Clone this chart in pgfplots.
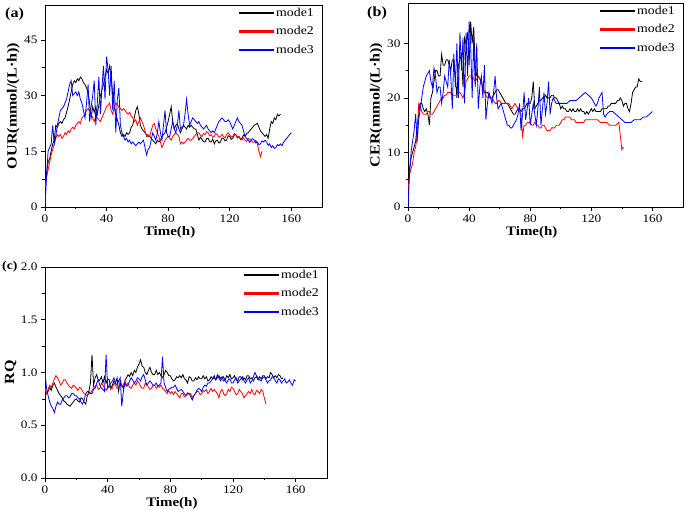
\documentclass[border=0pt]{standalone}
\usepackage{fontspec}
\setmainfont{Liberation Serif}[FakeStretch=1.15]
\usepackage{pgfplots}
\pgfplotsset{compat=1.18}
\begin{document}
\begin{tikzpicture}
\useasboundingbox (0pt,0pt) rectangle (685pt,510pt);
\fill[white] (0pt,0pt) rectangle (685pt,510pt);
\pgfplotsset{
 panel/.style={
  scale only axis, xmin=0, xmax=180, xtick={0,40,...,160}, minor x tick num=1,
  tick align=outside, xtick pos=left, ytick pos=left,
  major tick length=4pt, minor tick length=2.5pt,
  every tick/.style={black, line width=0.6pt},
  axis line style={line width=0.8pt},
  tick label style={font=\fontsize{11.5}{12}\selectfont},
  /pgf/number format/assume math mode=true,
  xlabel style={font=\fontsize{13}{14}\selectfont\bfseries, at={(ticklabel cs:0.45)}, inner sep=1pt},
  ylabel style={font=\fontsize{14}{15}\selectfont\bfseries, inner sep=1pt},
  legend style={draw=none, fill=none, at={(1,1)}, anchor=north east, xshift=-5pt, yshift=0pt,
    font=\fontsize{12}{13}\selectfont, row sep=4.5pt, inner sep=1pt,
    nodes={inner sep=2pt}},
  legend image code/.code={\fill[#1] (0pt,-0.55pt) rectangle (34pt,0.55pt);},
  legend cell align=left,
  no markers,
  every axis plot/.append style={line width=0.8pt},
 }
}
% ---------------- (a) ----------------
\begin{axis}[panel, at={(45pt,303pt)}, anchor=south west, width=277pt, height=202pt,
  ymin=0, ymax=54.4, ytick={0,15,30,45}, minor y tick num=1,
  xlabel={Time(h)}, ylabel={OUR(mmol/(L·h))}]
\addplot[color=black] table[row sep=\\]{t v\\
0 7\\ 1 9\\ 2 12\\ 3 13\\ 4 15\\ 5 17\\ 6 18\\ 7 22\\ 8 21.5\\ 9 22.5\\ 10 23\\ 11 22.5\\ 12 23.5\\ 13 24\\ 14 25.5\\ 15 27\\ 16 29\\ 17 31\\ 18 33\\ 19 34\\ 20 33.5\\ 21 34.5\\ 22 34\\ 23 35\\ 24 34.5\\ 25 33.5\\ 26 33\\ 27 32\\ 28 31\\ 29 28\\ 30 24\\ 31 27\\ 32 25.5\\ 33 27\\ 34 25\\ 35 27.5\\ 36 30\\ 37 31.5\\ 38 33\\ 39 35\\ 40 37\\ 41 36\\ 42 38\\ 43 35\\ 44 30\\ 45 27\\ 46 25\\ 47 23.5\\ 48 22\\ 49 20\\ 50 19\\ 51 19.5\\ 52 19\\ 53 20\\ 54 19.5\\ 55 20\\ 56 21.5\\ 57 22\\ 58 24\\ 59 26\\ 60 27\\ 61 25\\ 62 22\\ 63 21\\ 64 20.5\\ 65 20\\ 66 19.5\\ 67 19\\ 68 19\\ 69 18.5\\ 70 18\\ 71 17.5\\ 72 17\\ 73 18\\ 74 17.5\\ 75 18\\ 76 19\\ 77 19.5\\ 78 20\\ 79 21.5\\ 80 23\\ 81 25\\ 82 27\\ 83 23\\ 84 21\\ 85 22\\ 86 22.5\\ 87 21\\ 88 20\\ 89 21\\ 90 22\\ 91 21.5\\ 92 21\\ 93 22\\ 94 21.5\\ 95 22\\ 96 21.5\\ 97 21\\ 98 21\\ 99 19.5\\ 100 18\\ 101 18.8\\ 102 18.2\\ 103 17.6\\ 104 17.5\\ 105 18.4\\ 106 18.5\\ 107 17.6\\ 108 17.5\\ 109 18.3\\ 110 17\\ 111 17.8\\ 112 18\\ 113 17.2\\ 114 17.5\\ 115 18.6\\ 116 18.5\\ 117 17.8\\ 118 18\\ 119 19.2\\ 120 19\\ 121 18.2\\ 122 18.5\\ 123 19.4\\ 124 19.5\\ 125 18.6\\ 126 19\\ 127 18.2\\ 128 18.5\\ 129 19.4\\ 130 19\\ 131 19.8\\ 132 20\\ 134 21\\ 136 22\\ 138 22.5\\ 140 20.5\\ 142 19.5\\ 143 19\\ 144 19.5\\ 145 18.5\\ 146 21\\ 147 23\\ 148 22.5\\ 149 24\\ 150 23.5\\ 151 25\\ 152 24.5\\ 153 25\\
};
\addlegendentry{mode1}
\addplot[color=red] table[row sep=\\]{t v\\
0 5\\ 1 8\\ 2 10\\ 3 12\\ 4 14\\ 5 15.5\\ 6 17\\ 7 18.5\\ 8 19.5\\ 9 19\\ 10 19.5\\ 11 18.5\\ 12 19\\ 13 20\\ 14 19.5\\ 15 20.5\\ 16 20\\ 17 21\\ 18 21.5\\ 19 21\\ 20 22\\ 21 22.5\\ 22 23\\ 23 22.5\\ 24 24\\ 25 24.5\\ 26 25\\ 27 26\\ 28 26.5\\ 29 26\\ 30 25\\ 31 24\\ 32 23\\ 33 24.5\\ 34 24\\ 35 23.5\\ 36 23\\ 37 24\\ 38 25\\ 39 26\\ 40 27\\ 41 27.5\\ 42 28\\ 43 26\\ 44 25\\ 45 27\\ 46 28\\ 47 27.5\\ 48 27\\ 49 26.5\\ 50 26\\ 51 26.5\\ 52 26\\ 53 25.5\\ 54 25\\ 55 25.5\\ 56 24.5\\ 57 24\\ 58 23\\ 59 23.5\\ 60 22\\ 61 23\\ 62 24\\ 63 23\\ 64 22\\ 65 20.5\\ 66 19\\ 67 19.5\\ 68 19\\ 69 20.5\\ 70 22\\ 71 22.5\\ 72 21\\ 73 20\\ 74 19\\ 75 17.5\\ 76 16\\ 77 17\\ 78 18\\ 79 18.5\\ 80 19\\ 81 18.5\\ 82 18\\ 83 19\\ 84 19.5\\ 85 20\\ 86 19.5\\ 87 19\\ 88 17\\ 89 17.5\\ 90 17\\ 91 17.5\\ 92 18\\ 93 18.5\\ 94 18\\ 95 18\\ 96 18.5\\ 97 19\\ 98 19.5\\ 99 20\\ 100 20\\ 101 19.3\\ 102 19\\ 103 19.8\\ 104 19.5\\ 105 20.3\\ 106 20\\ 107 19.2\\ 108 19.5\\ 109 18.8\\ 110 19\\ 111 19.8\\ 112 19.5\\ 113 18.8\\ 114 19\\ 115 19.6\\ 116 19\\ 117 18.6\\ 118 19.5\\ 119 20\\ 120 19.5\\ 121 18.8\\ 122 19\\ 123 19.8\\ 124 19.5\\ 125 18.8\\ 126 19\\ 127 18.4\\ 128 18\\ 129 18.6\\ 130 18\\ 131 17.6\\ 132 18.5\\ 133 18.2\\ 134 18\\ 135 17.4\\ 136 17.5\\ 137 18\\ 138 17\\ 139 15\\ 140 13.5\\ 141 15\\
};
\addlegendentry{mode2}
\addplot[color=blue] table[row sep=\\]{t v\\
0 0\\ 1 8\\ 2 15\\ 3 16\\ 4 17\\ 5 22\\ 6 17\\ 7 19\\ 8 22\\ 9 24\\ 10 26\\ 11 26.5\\ 12 27\\ 13 28\\ 14 29\\ 15 31\\ 16 33\\ 17 34\\ 18 30\\ 19 30.5\\ 20 31\\ 21 30\\ 22 31\\ 23 29\\ 24 28\\ 25 26\\ 26 24\\ 27 28\\ 28 33\\ 29 23\\ 30 27\\ 31 30\\ 32 34\\ 33 22\\ 34 28\\ 35 35\\ 36 25\\ 37 32\\ 38 38\\ 39 29\\ 40 40.5\\ 41 37\\ 42 30\\ 43 38\\ 44 26\\ 45 34\\ 46 20\\ 47 29\\ 48 32\\ 49 22\\ 50 20\\ 51 19\\ 52 18\\ 53 18.5\\ 54 17.5\\ 55 18\\ 56 17\\ 57 17.5\\ 58 17\\ 59 16.5\\ 60 17\\ 61 17.5\\ 62 17\\ 63 17.5\\ 64 18\\ 65 16\\ 66 14\\ 67 15.5\\ 68 16\\ 69 18\\ 70 20\\ 71 19\\ 72 18\\ 73 20\\ 74 23\\ 75 20\\ 76 18\\ 77 22\\ 78 26\\ 79 20\\ 80 19\\ 81 19\\ 82 21\\ 83 23\\ 84 21\\ 85 20\\ 86 22\\ 87 26\\ 88 21\\ 89 21.5\\ 90 22\\ 91 25\\ 92 29\\ 93 25\\ 94 22\\ 95 23\\ 96 24\\ 97 23.5\\ 98 23\\ 99 22.5\\ 100 23\\ 101 22\\ 102 21.5\\ 103 21\\ 104 21.5\\ 105 22\\ 106 21\\ 107 20.5\\ 108 20\\ 109 20.5\\ 110 20\\ 111 21\\ 112 22\\ 113 23\\ 114 23.5\\ 115 24\\ 116 23.5\\ 117 23\\ 118 23\\ 119 23.5\\ 120 23\\ 121 22\\ 122 21\\ 123 22\\ 124 23\\ 125 24\\ 126 23\\ 127 22.5\\ 128 22\\ 129 20.5\\ 130 19\\ 131 18.5\\ 132 18\\ 133 17.4\\ 134 18\\ 135 18.4\\ 136 18\\ 137 17.2\\ 138 17.5\\ 139 16.8\\ 140 17\\ 141 17.8\\ 142 17.5\\ 143 18\\ 144 17.5\\ 145 16.6\\ 146 17\\ 147 16\\ 148 16.5\\ 149 15.8\\ 150 16\\ 151 16.8\\ 152 16.5\\ 153 17\\ 154 16.5\\ 155 17.4\\ 156 18\\ 157 18.4\\ 158 19\\ 159 19.5\\ 160 20\\
};
\addlegendentry{mode3}
\end{axis}
\node[anchor=west, font=\fontsize{14}{15}\selectfont\bfseries, inner sep=0pt] at (5pt,496pt) {(a)};
% ---------------- (b) ----------------
\begin{axis}[panel, at={(408pt,303pt)}, anchor=south west, width=275pt, height=204pt,
  ymin=0, ymax=37.4, ytick={0,10,20,30}, minor y tick num=1,
  xlabel={Time(h)}, ylabel={CER(mmol/(L·h))}]
\addplot[color=black] table[row sep=\\]{t v\\
0 5\\ 1 7\\ 2 9\\ 3 10\\ 4 11\\ 5 12\\ 6 15\\ 7 17\\ 8 19\\ 9 19\\ 10 18\\ 11 17.5\\ 12 18\\ 13 17\\ 14 15\\ 15 20\\ 16 21\\ 17 23\\ 18 25\\ 19 25\\ 20 24\\ 21 24\\ 22 28\\ 23 26\\ 24 26\\ 25 27\\ 26 27\\ 27 26\\ 28 25\\ 29 27\\ 30 27\\ 31 24\\ 32 20\\ 33 26\\ 34 27\\ 35 28\\ 36 22\\ 37 31\\ 38 30\\ 39 32\\ 40 26\\ 41 34\\ 42 30\\ 43 33\\ 44 26\\ 45 24\\ 46 24\\ 47 23.5\\ 48 23\\ 49 22\\ 50 21\\ 51 21\\ 52 21\\ 53 20.5\\ 54 20\\ 55 20\\ 56 20.5\\ 57 21\\ 58 21.5\\ 59 21.5\\ 60 21\\ 61 20.5\\ 62 20\\ 63 19.5\\ 64 19\\ 65 19\\ 66 18.5\\ 67 18\\ 68 17.5\\ 69 17\\ 70 17\\ 71 17.5\\ 72 18\\ 73 18\\ 74 17.5\\ 75 18\\ 76 18\\ 77 18.5\\ 78 19\\ 79 19\\ 80 19\\ 81 20\\ 82 23\\ 83 18\\ 84 18.5\\ 85 19\\ 86 19.5\\ 87 19.5\\ 88 20\\ 89 20\\ 90 20.5\\ 91 20\\ 92 20\\ 93 20\\ 94 20.5\\ 95 20.5\\ 96 20\\ 97 20\\ 98 19.5\\ 99 19\\ 100 18\\ 101 18.5\\ 102 18\\ 103 18\\ 104 17.5\\ 105 17.5\\ 106 18\\ 107 17.5\\ 108 18\\ 109 17.5\\ 110 17.5\\ 111 18\\ 112 17.5\\ 113 18\\ 114 17.5\\ 115 17.5\\ 116 17\\ 117 17.5\\ 118 17\\ 119 17.5\\ 120 18\\ 121 17.5\\ 122 18\\ 123 17.5\\ 124 17.5\\ 125 17.5\\ 126 17.5\\ 127 18\\ 128 18\\ 129 18\\ 130 18\\ 131 18.5\\ 132 18.5\\ 133 19\\ 134 19\\ 135 19\\ 136 19\\ 137 19.5\\ 138 19.5\\ 139 20\\ 140 19.5\\ 141 18.5\\ 142 19\\ 143 19\\ 144 18\\ 145 17.5\\ 146 19\\ 147 21\\ 148 21.5\\ 149 22\\ 150 22\\ 151 23.5\\ 152 23\\ 153 23\\
};
\addlegendentry{mode1}
\addplot[color=red] table[row sep=\\]{t v\\
0 3\\ 1 6\\ 2 7\\ 3 8\\ 4 10\\ 5 11\\ 6 13\\ 7 19\\ 8 18.5\\ 9 17.5\\ 10 17\\ 11 17\\ 12 17\\ 13 17.5\\ 14 17.5\\ 15 17\\ 16 17\\ 17 17.5\\ 18 18\\ 19 18.5\\ 20 19\\ 21 19.5\\ 22 20\\ 23 20\\ 24 20.5\\ 25 20.5\\ 26 21\\ 27 21\\ 28 21\\ 29 20.5\\ 30 20.5\\ 31 20.5\\ 32 20.5\\ 33 21\\ 34 21\\ 35 20.5\\ 36 20\\ 37 21\\ 38 23\\ 39 23.5\\ 40 24\\ 41 24\\ 42 24\\ 43 23.5\\ 44 23\\ 45 23.5\\ 46 24\\ 47 23.5\\ 48 23\\ 49 22\\ 50 21\\ 51 20.5\\ 52 20\\ 53 20\\ 54 20\\ 55 20\\ 56 19.5\\ 57 19\\ 58 19\\ 59 19.5\\ 60 19.5\\ 61 19\\ 62 19\\ 63 19\\ 64 19\\ 65 19\\ 66 19\\ 67 18.5\\ 68 18\\ 69 18.5\\ 70 19\\ 71 18.5\\ 72 18\\ 73 17.5\\ 74 17\\ 75 13\\ 76 15\\ 77 15\\ 78 15.5\\ 79 15.5\\ 80 15.5\\ 81 15\\ 82 15\\ 83 15.5\\ 84 15\\ 85 15\\ 86 14.5\\ 87 14.5\\ 88 15\\ 89 15\\ 90 14.5\\ 91 14\\ 92 14\\ 93 14\\ 94 14.5\\ 95 14.5\\ 96 14.5\\ 97 15\\ 98 15\\ 99 15\\ 100 15.5\\ 101 16\\ 102 16\\ 103 16.5\\ 104 16.5\\ 105 16.5\\ 106 16.5\\ 107 16\\ 108 16\\ 109 16\\ 110 15.5\\ 111 15.5\\ 112 15.5\\ 113 15.5\\ 114 15.5\\ 115 15.5\\ 116 16\\ 117 16\\ 118 16\\ 119 16\\ 120 16\\ 122 16\\ 124 16\\ 126 15.5\\ 128 15.5\\ 130 15.5\\ 132 15\\ 134 15\\ 136 15\\ 138 15.5\\ 139 13\\ 140 10.5\\ 141 11\\
};
\addlegendentry{mode2}
\addplot[color=blue] table[row sep=\\]{t v\\
0 0\\ 1 6\\ 2 10\\ 3 12\\ 4 14\\ 5 17\\ 6 12\\ 7 16\\ 8 18\\ 9 20\\ 10 22\\ 11 23\\ 12 24\\ 13 24.5\\ 14 25\\ 15 23\\ 16 22\\ 17 25.5\\ 18 24\\ 19 21\\ 20 22\\ 21 22\\ 22 19\\ 23 21\\ 24 24\\ 25 23\\ 26 22\\ 27 27\\ 28 24\\ 29 18\\ 30 28\\ 31 22\\ 32 30\\ 33 20\\ 34 32\\ 35 25\\ 36 31\\ 37 19\\ 38 32\\ 39 24\\ 40 34\\ 41 30\\ 42 20\\ 43 31\\ 44 22\\ 45 30\\ 46 18\\ 47 22\\ 48 24\\ 49 20\\ 50 26\\ 51 16\\ 52 19\\ 53 21\\ 54 20\\ 55 19\\ 56 21\\ 57 24\\ 58 20\\ 59 18\\ 60 18.5\\ 61 19\\ 62 18\\ 63 17\\ 64 16\\ 65 15\\ 66 15\\ 67 14.5\\ 68 14.5\\ 69 15\\ 70 15.5\\ 71 16\\ 72 17\\ 73 19\\ 74 14\\ 75 17\\ 76 21\\ 77 16\\ 78 18\\ 79 20\\ 80 15\\ 81 17\\ 82 19\\ 83 17\\ 84 15\\ 85 18\\ 86 22\\ 87 15\\ 88 18\\ 89 21\\ 90 17\\ 91 19\\ 92 23\\ 93 17\\ 94 19\\ 95 20\\ 96 19.5\\ 97 19\\ 98 19\\ 99 19\\ 100 19\\ 102 19\\ 104 19\\ 106 19.5\\ 108 19.5\\ 110 19.5\\ 112 20\\ 114 20.5\\ 116 21\\ 118 20.5\\ 120 20\\ 122 19\\ 123 18.5\\ 124 19\\ 125 20\\ 126 20.5\\ 127 21\\ 128 17\\ 129 16.5\\ 130 17\\ 132 17.5\\ 134 17.5\\ 136 17\\ 138 16.5\\ 140 16\\ 142 15.5\\ 144 15.5\\ 146 15.5\\ 148 16\\ 150 16\\ 152 16\\ 154 16.5\\ 156 16.5\\ 158 17\\ 160 17.5\\
};
\addlegendentry{mode3}
\end{axis}
\node[anchor=west, font=\fontsize{14}{15}\selectfont\bfseries, inner sep=0pt] at (367pt,497pt) {(b)};
% ---------------- (c) ----------------
\begin{axis}[panel, at={(45pt,32pt)}, anchor=south west, width=282pt, height=211pt,
  ymin=0, ymax=2, ytick={0,0.5,1,1.5,2}, minor y tick num=1,
  yticklabel style={/pgf/number format/.cd, fixed, fixed zerofill, precision=1},
  xlabel={Time(h)}, ylabel={RQ}]
\addplot[color=black] table[row sep=\\]{t v\\
0 0.85\\ 1 0.80\\ 2 0.82\\ 3 0.86\\ 4 0.83\\ 5 0.88\\ 6 0.9\\ 7 0.86\\ 8 0.83\\ 9 0.8\\ 10 0.78\\ 11 0.76\\ 12 0.73\\ 13 0.72\\ 14 0.7\\ 15 0.69\\ 16 0.68\\ 17 0.7\\ 18 0.72\\ 19 0.74\\ 20 0.75\\ 21 0.73\\ 22 0.72\\ 23 0.76\\ 24 0.75\\ 25 0.72\\ 26 0.7\\ 27 0.78\\ 28 0.82\\ 29 0.9\\ 30 1.17\\ 31 0.88\\ 32 0.95\\ 33 0.98\\ 34 0.92\\ 35 0.93\\ 36 0.96\\ 37 0.9\\ 38 0.96\\ 39 0.9\\ 40 0.94\\ 41 0.93\\ 42 0.85\\ 43 0.88\\ 44 0.92\\ 45 0.9\\ 46 0.95\\ 47 0.82\\ 48 0.92\\ 49 0.88\\ 50 0.85\\ 51 0.92\\ 52 0.95\\ 53 0.98\\ 54 0.96\\ 55 1.0\\ 56 0.97\\ 57 1.02\\ 58 1.0\\ 59 1.05\\ 60 1.08\\ 61 1.12\\ 62 1.06\\ 63 1.05\\ 64 1.0\\ 65 0.98\\ 66 1.02\\ 67 1.05\\ 68 1.0\\ 69 0.98\\ 70 0.98\\ 71 1.02\\ 72 0.98\\ 73 1.0\\ 74 0.97\\ 75 0.95\\ 76 0.98\\ 77 1.02\\ 78 1.0\\ 79 0.97\\ 80 0.97\\ 81 0.94\\ 82 0.92\\ 83 0.93\\ 84 0.96\\ 85 0.95\\ 86 0.97\\ 87 0.95\\ 88 0.98\\ 89 0.94\\ 90 0.93\\ 91 0.9\\ 92 0.96\\ 93 0.95\\ 94 0.92\\ 95 0.92\\ 96 0.95\\ 97 0.93\\ 98 0.96\\ 99 0.94\\ 100 0.94\\ 101 0.97\\ 102 0.94\\ 103 0.96\\ 104 0.92\\ 105 0.93\\ 106 0.96\\ 107 0.94\\ 108 0.97\\ 109 0.93\\ 110 0.95\\ 111 0.97\\ 112 0.94\\ 113 0.96\\ 114 0.92\\ 115 0.93\\ 116 0.97\\ 117 0.95\\ 118 0.98\\ 119 0.94\\ 120 0.95\\ 121 0.97\\ 122 0.93\\ 123 0.92\\ 124 0.96\\ 125 0.96\\ 126 0.93\\ 127 0.95\\ 128 0.93\\ 129 0.97\\ 130 0.97\\ 131 0.94\\ 132 0.95\\ 133 0.92\\ 134 0.95\\ 135 0.96\\ 136 0.93\\ 137 0.96\\ 138 0.94\\ 139 0.97\\ 140 0.97\\ 141 0.94\\ 142 0.96\\ 143 0.95\\ 144 1.0\\ 145 0.98\\ 146 0.95\\ 147 0.97\\ 148 0.95\\ 149 0.98\\ 150 0.97\\ 151 0.94\\ 152 0.95\\
};
\addlegendentry{mode1}
\addplot[color=red] table[row sep=\\]{t v\\
0 0.85\\ 1 0.80\\ 2 0.84\\ 3 0.88\\ 4 0.86\\ 5 0.90\\ 6 0.94\\ 7 0.97\\ 8 0.95\\ 9 0.92\\ 10 0.88\\ 11 0.90\\ 12 0.93\\ 13 0.93\\ 14 0.9\\ 15 0.88\\ 16 0.86\\ 17 0.85\\ 18 0.88\\ 19 0.87\\ 20 0.85\\ 21 0.83\\ 22 0.86\\ 23 0.85\\ 24 0.82\\ 25 0.8\\ 26 0.79\\ 27 0.78\\ 28 0.8\\ 29 0.8\\ 30 0.83\\ 31 0.85\\ 32 0.87\\ 33 0.88\\ 34 0.84\\ 35 0.85\\ 36 0.9\\ 37 0.88\\ 38 0.85\\ 39 0.83\\ 40 0.86\\ 41 0.87\\ 42 0.84\\ 43 0.85\\ 44 0.9\\ 45 0.88\\ 46 0.85\\ 47 0.86\\ 48 0.9\\ 49 0.87\\ 50 0.88\\ 51 0.92\\ 52 0.88\\ 53 0.9\\ 54 0.86\\ 55 0.85\\ 56 0.88\\ 57 0.9\\ 58 0.88\\ 59 0.92\\ 60 0.9\\ 61 0.87\\ 62 0.85\\ 63 0.85\\ 64 0.9\\ 65 0.88\\ 66 0.86\\ 67 0.84\\ 68 0.85\\ 69 0.88\\ 70 0.88\\ 71 0.85\\ 72 0.87\\ 73 0.86\\ 74 0.88\\ 75 0.85\\ 76 0.84\\ 77 0.82\\ 78 0.8\\ 79 0.83\\ 80 0.8\\ 81 0.82\\ 82 0.79\\ 83 0.82\\ 84 0.8\\ 85 0.78\\ 86 0.76\\ 87 0.8\\ 88 0.8\\ 89 0.77\\ 90 0.78\\ 91 0.81\\ 92 0.79\\ 93 0.8\\ 94 0.76\\ 95 0.78\\ 96 0.8\\ 97 0.82\\ 98 0.82\\ 99 0.79\\ 100 0.8\\ 101 0.83\\ 102 0.82\\ 103 0.84\\ 104 0.8\\ 105 0.82\\ 106 0.85\\ 107 0.82\\ 108 0.84\\ 109 0.82\\ 110 0.8\\ 111 0.76\\ 112 0.82\\ 113 0.84\\ 114 0.8\\ 115 0.78\\ 116 0.8\\ 117 0.84\\ 118 0.82\\ 119 0.86\\ 120 0.85\\ 121 0.82\\ 122 0.79\\ 123 0.8\\ 124 0.84\\ 125 0.82\\ 126 0.8\\ 127 0.76\\ 128 0.78\\ 129 0.8\\ 130 0.82\\ 131 0.8\\ 132 0.84\\ 133 0.8\\ 134 0.79\\ 135 0.83\\ 136 0.82\\ 137 0.8\\ 138 0.84\\ 139 0.82\\ 140 0.76\\ 141 0.7\\
};
\addlegendentry{mode2}
\addplot[color=blue] table[row sep=\\]{t v\\
0 1.0\\ 1 0.85\\ 2 0.78\\ 3 0.72\\ 4 0.68\\ 5 0.66\\ 6 0.62\\ 7 0.68\\ 8 0.72\\ 9 0.7\\ 10 0.7\\ 11 0.74\\ 12 0.76\\ 13 0.78\\ 14 0.78\\ 15 0.76\\ 16 0.77\\ 17 0.8\\ 18 0.8\\ 19 0.78\\ 20 0.78\\ 21 0.76\\ 22 0.75\\ 23 0.72\\ 24 0.7\\ 25 0.74\\ 26 0.8\\ 27 0.82\\ 28 0.82\\ 29 0.8\\ 30 0.8\\ 31 0.84\\ 32 0.85\\ 33 0.9\\ 34 0.93\\ 35 0.88\\ 36 0.85\\ 37 0.84\\ 38 0.82\\ 39 1.17\\ 40 0.85\\ 41 0.88\\ 42 0.9\\ 43 0.92\\ 44 0.95\\ 45 0.9\\ 46 0.88\\ 47 0.92\\ 48 0.95\\ 49 0.68\\ 50 0.82\\ 51 0.9\\ 52 0.87\\ 53 0.88\\ 54 0.92\\ 55 0.95\\ 56 0.93\\ 57 0.9\\ 58 0.92\\ 59 0.95\\ 60 0.94\\ 61 0.92\\ 62 0.96\\ 63 0.98\\ 64 0.93\\ 65 0.88\\ 66 0.9\\ 67 0.92\\ 68 0.9\\ 69 0.88\\ 70 0.88\\ 71 0.9\\ 72 0.87\\ 73 0.88\\ 74 0.9\\ 75 1.15\\ 76 0.9\\ 77 0.86\\ 78 0.82\\ 79 0.84\\ 80 0.85\\ 81 0.86\\ 82 0.86\\ 83 0.88\\ 84 0.85\\ 85 0.82\\ 86 0.83\\ 87 0.84\\ 88 0.82\\ 89 0.8\\ 90 0.78\\ 91 0.8\\ 92 0.8\\ 93 0.77\\ 94 0.74\\ 95 0.78\\ 96 0.8\\ 97 0.83\\ 98 0.85\\ 99 0.84\\ 100 0.82\\ 101 0.86\\ 102 0.88\\ 103 0.87\\ 104 0.9\\ 105 0.9\\ 106 0.92\\ 107 0.94\\ 108 0.95\\ 109 0.93\\ 110 0.98\\ 111 0.95\\ 112 0.92\\ 113 0.94\\ 114 0.96\\ 115 0.92\\ 116 0.9\\ 117 0.93\\ 118 0.94\\ 119 0.9\\ 120 0.9\\ 121 0.93\\ 122 0.95\\ 123 0.9\\ 124 0.92\\ 125 0.94\\ 126 0.96\\ 127 0.92\\ 128 0.9\\ 129 0.93\\ 130 0.95\\ 131 0.9\\ 132 0.92\\ 133 0.96\\ 134 1.0\\ 135 0.97\\ 136 0.95\\ 137 0.93\\ 138 0.92\\ 139 0.95\\ 140 0.96\\ 141 0.93\\ 142 0.9\\ 143 0.92\\ 144 0.93\\ 145 0.96\\ 146 0.95\\ 147 0.92\\ 148 0.9\\ 149 0.94\\ 150 0.93\\ 151 0.9\\ 152 0.92\\ 153 0.94\\ 154 0.9\\ 155 0.91\\ 156 0.93\\ 157 0.9\\ 158 0.88\\ 159 0.93\\ 160 0.92\\
};
\addlegendentry{mode3}
\end{axis}
\node[anchor=west, font=\fontsize{12}{13}\selectfont\bfseries, inner sep=0pt] at (2pt,243pt) {(c)};
\end{tikzpicture}
\end{document}
